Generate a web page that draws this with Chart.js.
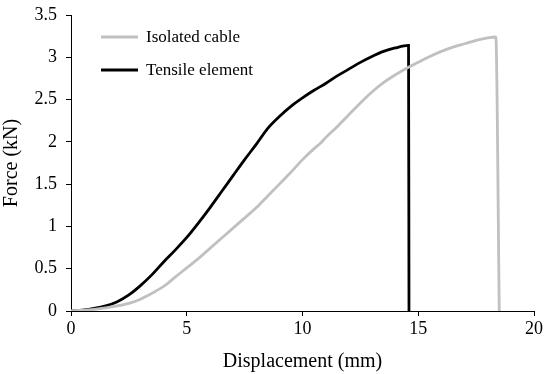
<!DOCTYPE html>
<html>
<head>
<meta charset="utf-8">
<script src="https://cdn.jsdelivr.net/npm/chart.js@4/dist/chart.umd.min.js"></script>
<style>
html,body{margin:0;padding:0;background:#fff;}
#wrap{width:550px;height:374px;position:relative;}
</style>
</head>
<body>
<div id="wrap"><canvas id="c" width="550" height="374"></canvas></div>
<script>
const seriesNames = ["Isolated cable", "Tensile element"];
const cableX = [0, 1, 2, 2.5, 3, 3.5, 4, 4.5, 5, 5.5, 6, 6.5, 7, 7.5, 8, 8.5, 9, 9.5, 10, 10.5, 10.8, 11, 11.5, 12, 12.5, 13, 13.5, 14, 14.5, 15, 15.5, 16, 16.5, 17, 17.5, 18, 18.35, 18.5];
const cableY = [0, 0.02, 0.06, 0.09, 0.14, 0.21, 0.29, 0.40, 0.51, 0.62, 0.74, 0.86, 0.98, 1.10, 1.22, 1.36, 1.50, 1.64, 1.79, 1.92, 1.99, 2.05, 2.18, 2.32, 2.46, 2.59, 2.70, 2.79, 2.87, 2.94, 3.01, 3.07, 3.12, 3.16, 3.20, 3.23, 3.24, 0];
const tensileX = [0, 0.5, 1, 1.5, 2, 2.5, 3, 3.5, 4, 4.5, 5, 5.5, 6, 6.5, 7, 7.5, 8, 8.5, 9, 9.5, 10, 10.5, 11, 11.5, 12, 12.5, 13, 13.5, 14, 14.58, 14.6];
const tensileY = [0, 0.01, 0.03, 0.06, 0.11, 0.19, 0.30, 0.43, 0.58, 0.72, 0.87, 1.04, 1.22, 1.41, 1.60, 1.79, 1.97, 2.16, 2.30, 2.42, 2.52, 2.61, 2.69, 2.78, 2.86, 2.94, 3.01, 3.07, 3.11, 3.14, 0];
const xTicks = [0, 5, 10, 15, 20];
const yTicks = [0, 0.5, 1, 1.5, 2, 2.5, 3, 3.5];
const xTitle = "Displacement (mm)";
const yTitle = "Force (kN)";

const FONT = "'Liberation Serif', 'DejaVu Serif', serif";

function pts(xs, ys){ return xs.map((x,i)=>({x:x, y:ys[i]})); }

const legendPlugin = {
  id: 'customLegend',
  afterDraw(chart){
    const ctx = chart.ctx;
    ctx.save();
    ctx.font = "17px " + FONT;
    ctx.textBaseline = 'middle';
    ctx.textAlign = 'left';
    const rows = [37, 70];
    chart.data.datasets.forEach((ds, i) => {
      const y = rows[i];
      ctx.strokeStyle = ds.borderColor;
      ctx.lineWidth = 3;
      ctx.beginPath();
      ctx.moveTo(101, y);
      ctx.lineTo(138, y);
      ctx.stroke();
      ctx.fillStyle = '#000';
      ctx.fillText(ds.label, 146, y + 1);
    });
    ctx.restore();
  }
};

new Chart(document.getElementById('c'), {
  type: 'scatter',
  data: {
    datasets: [
      { label: seriesNames[0], data: pts(cableX, cableY), showLine: true, borderColor: '#c0c0c0', borderWidth: 2.8, pointRadius: 0, cubicInterpolationMode: 'monotone', borderJoinStyle: 'round' },
      { label: seriesNames[1], data: pts(tensileX, tensileY), showLine: true, borderColor: '#000000', borderWidth: 2.8, pointRadius: 0, cubicInterpolationMode: 'monotone', borderJoinStyle: 'miter' }
    ]
  },
  options: {
    responsive: false,
    animation: false,
    devicePixelRatio: 1,
    layout: { padding: { top: 15, right: 16, left: 0, bottom: 0 } },
    plugins: { legend: { display: false }, tooltip: { enabled: false } },
    scales: {
      x: {
        type: 'linear', min: 0, max: 20,
        afterBuildTicks(s){ s.ticks = xTicks.map(v => ({value: v})); },
        afterFit(s){ s.height = 63; s.paddingLeft = 0; s.paddingRight = 0; },
        grid: { display: true, drawOnChartArea: false, drawTicks: true, tickLength: 5, color: '#000', lineWidth: 1 },
        border: { display: true, color: '#000', width: 1 },
        ticks: { color: '#000', font: { family: FONT, size: 18 }, padding: 2, maxRotation: 0, callback: v => String(v) },
        title: { display: true, text: xTitle, color: '#000', font: { family: FONT, size: 20 }, padding: { top: 0, bottom: 0 } }
      },
      y: {
        type: 'linear', min: 0, max: 3.5,
        afterBuildTicks(s){ s.ticks = yTicks.map(v => ({value: v})); },
        afterFit(s){ s.width = 71; s.paddingTop = 0; s.paddingBottom = 0; },
        grid: { display: true, drawOnChartArea: false, drawTicks: true, tickLength: 5, color: '#000', lineWidth: 1 },
        border: { display: true, color: '#000', width: 1 },
        ticks: { color: '#000', font: { family: FONT, size: 18 }, padding: 9, callback: v => String(v) },
        title: { display: true, text: yTitle, color: '#000', font: { family: FONT, size: 20 }, padding: { top: 0, bottom: 0 } }
      }
    }
  },
  plugins: [legendPlugin]
});
</script>
</body>
</html>
